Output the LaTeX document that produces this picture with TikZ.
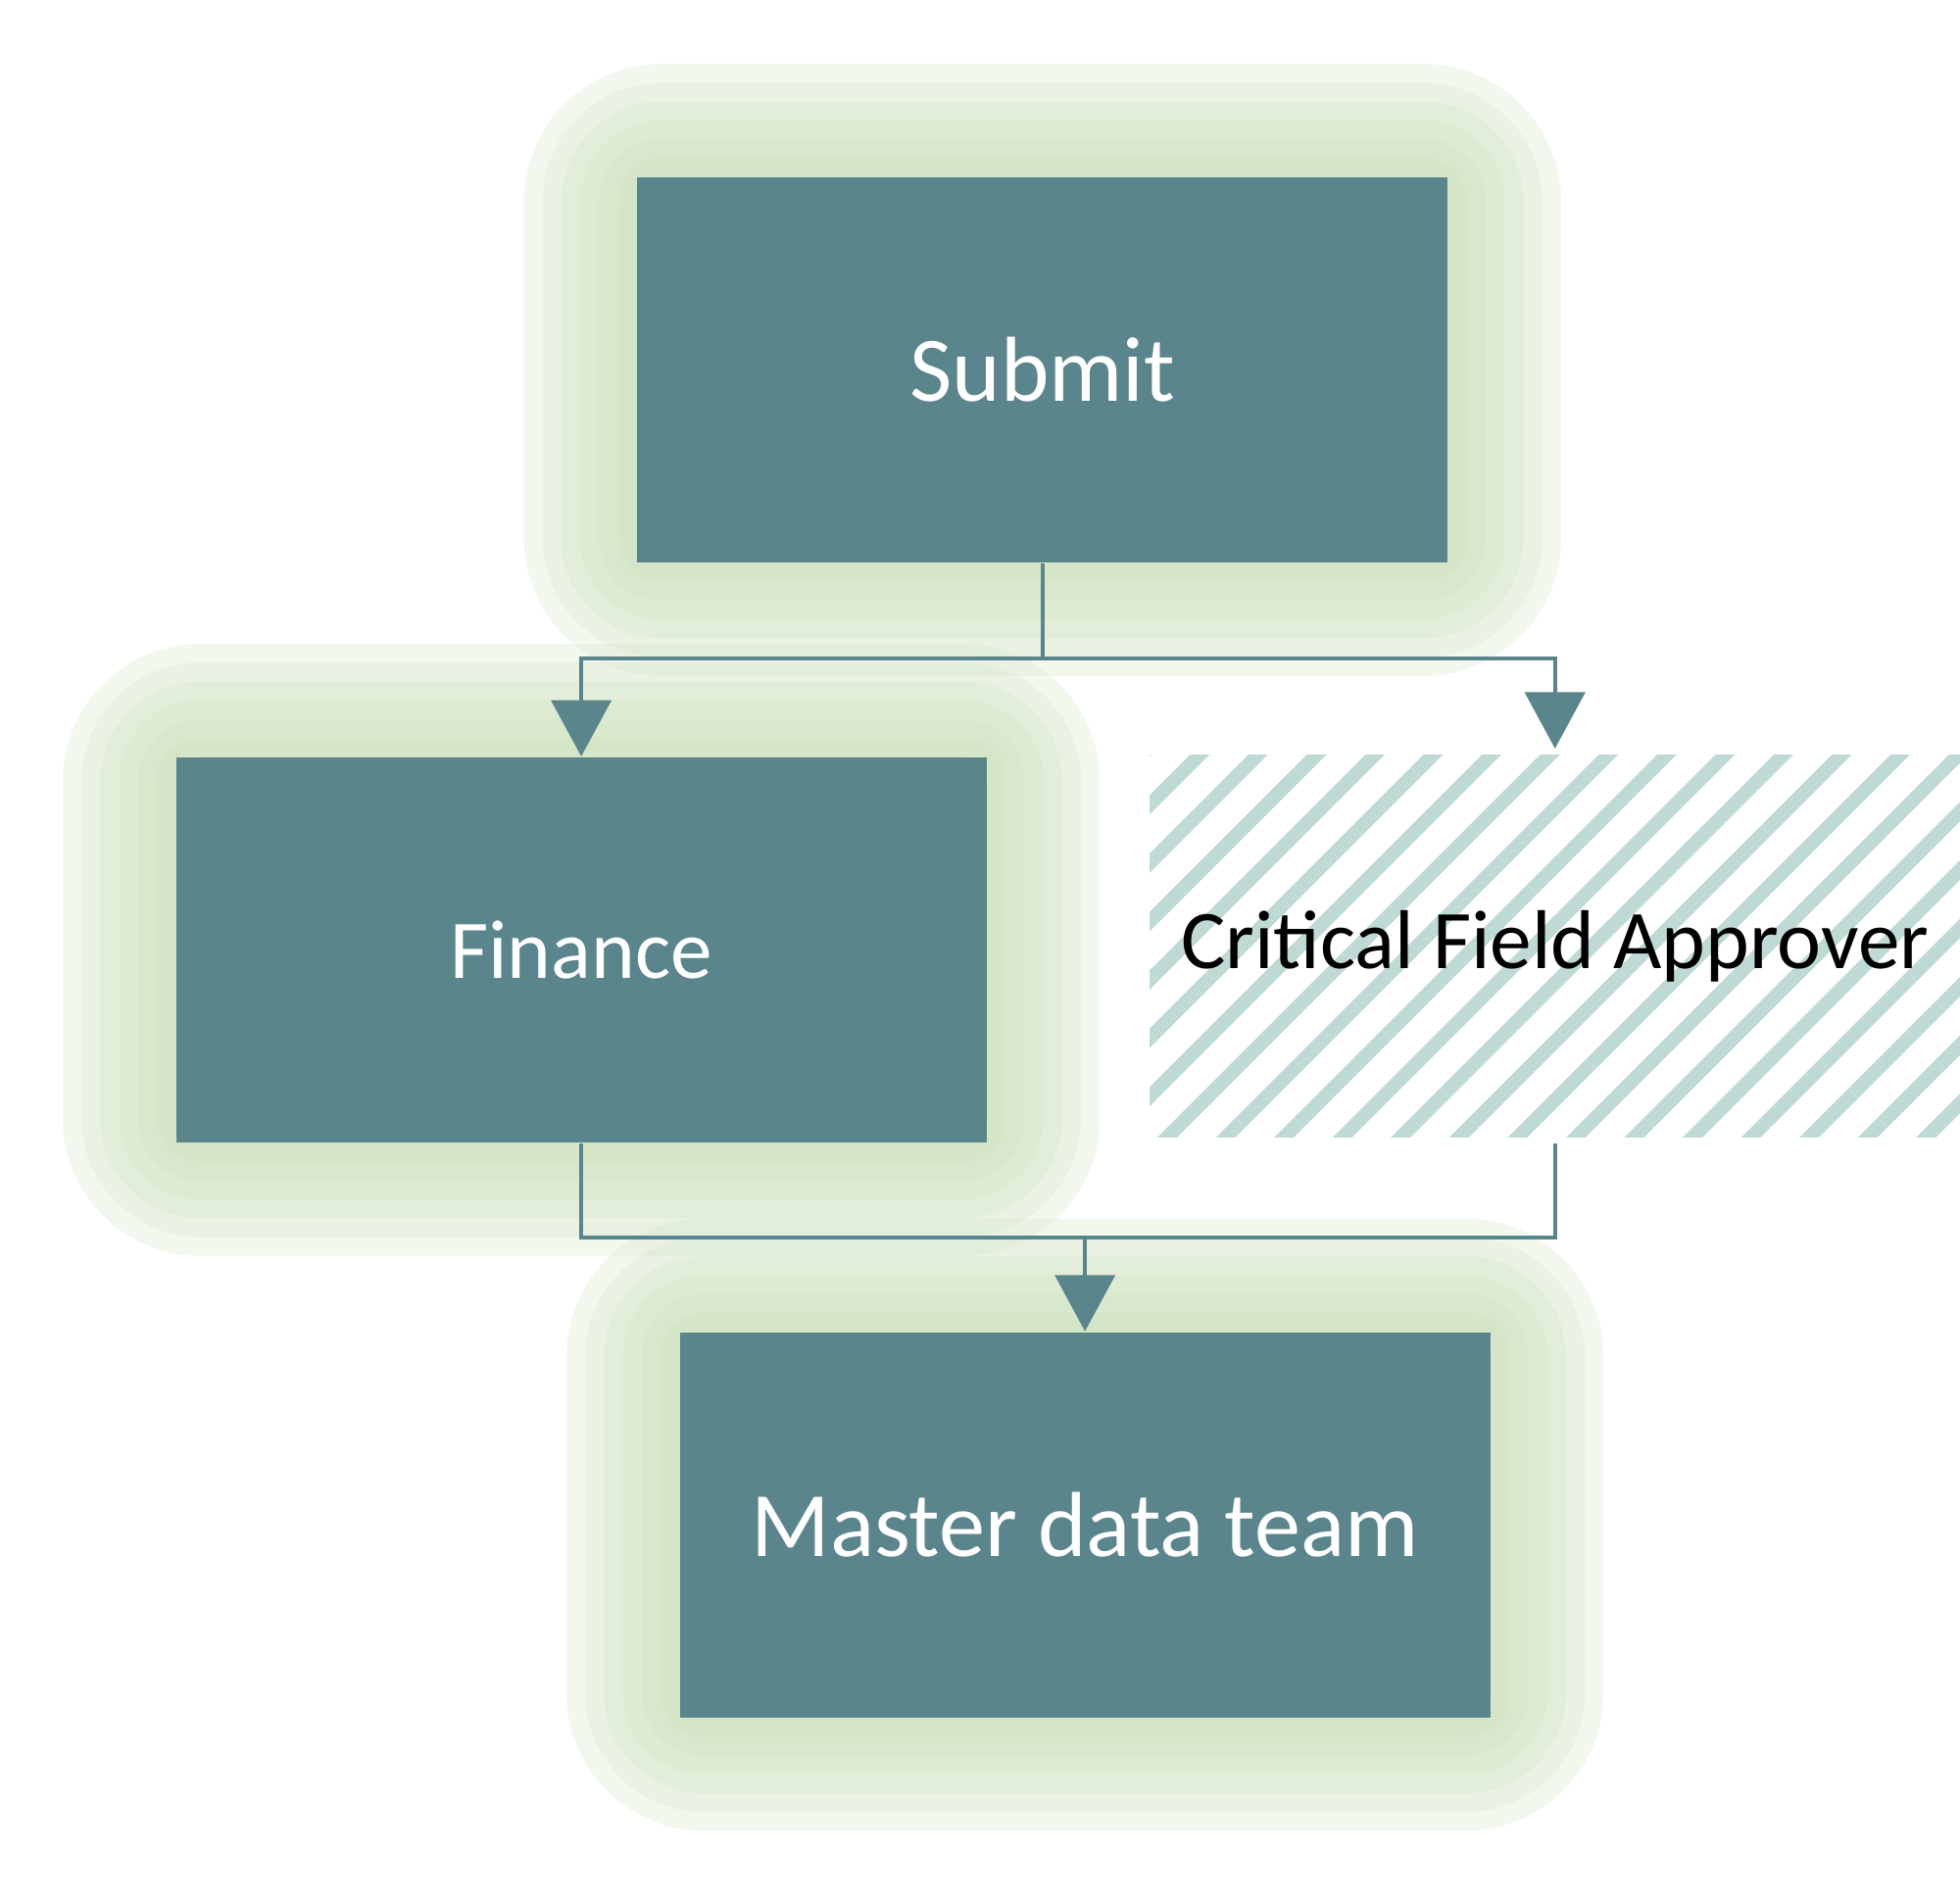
\documentclass[tikz,border=0pt]{standalone}
\usepackage{fontspec}
\setmainfont{Carlito}
\usetikzlibrary{patterns.meta,arrows.meta}
\definecolor{boxteal}{HTML}{5B858C}
\definecolor{glowgreen}{HTML}{C9DFB8}
\definecolor{hatchteal}{HTML}{BFDAD5}
\tikzset{
  stepbox/.style={rectangle, fill=boxteal, text=white, minimum width=6.48cm, minimum height=3.08cm, inner sep=0pt},
  hatchbox/.style={rectangle, minimum width=6.48cm, minimum height=3.05cm, inner sep=0pt,
    pattern={Lines[angle=45, distance=3.3mm, line width=1.1mm]}, pattern color=hatchteal},
  flow/.style={draw=boxteal, line width=0.8pt, -{Triangle[length=4.5mm, width=4.8mm]}},
  link/.style={draw=boxteal, line width=0.8pt}
}
\newcommand{\glow}[1]{%
  \foreach \r in {0.9,0.75,...,0.0}
    \fill[glowgreen, opacity=0.22, rounded corners=\r cm+2mm]
      ([shift={(-\r cm,\r cm)}]#1.north west) rectangle ([shift={(\r cm,-\r cm)}]#1.south east);}
\begin{document}
\begin{tikzpicture}[x=0.01cm, y=-0.01cm]
\useasboundingbox (0,0) rectangle (1568,1517);

\path (834,296) node[stepbox, opacity=0] (submit) {}
      (465,760) node[stepbox, opacity=0] (finance) {}
      (868,1220) node[stepbox, opacity=0] (master) {};
\glow{submit}
\glow{finance}
\glow{master}

\node[stepbox, font=\fontsize{21}{24}\selectfont] at (submit) {Submit};
\node[stepbox, font=\fontsize{19}{22}\selectfont] at (finance) {Finance};
\node[stepbox, font=\fontsize{21}{24}\selectfont] at (master) {Master data team};
\node[hatchbox] (critical) at (1244,757) {};
\node[font=\fontsize{19}{22}\selectfont] (critlabel) at (critical) {Critical Field Approver};

\coordinate (split) at (834,527);
\coordinate (merge) at (868,990);
\draw[link] (submit.south) -- (split);
\draw[flow] (split) -| (finance.north);
\draw[flow] (split) -| (critical.north);
\draw[link] (finance.south) |- (merge);
\draw[link] (critical.south) |- (merge);
\draw[flow] (merge) -- (master.north);
\end{tikzpicture}
\end{document}
